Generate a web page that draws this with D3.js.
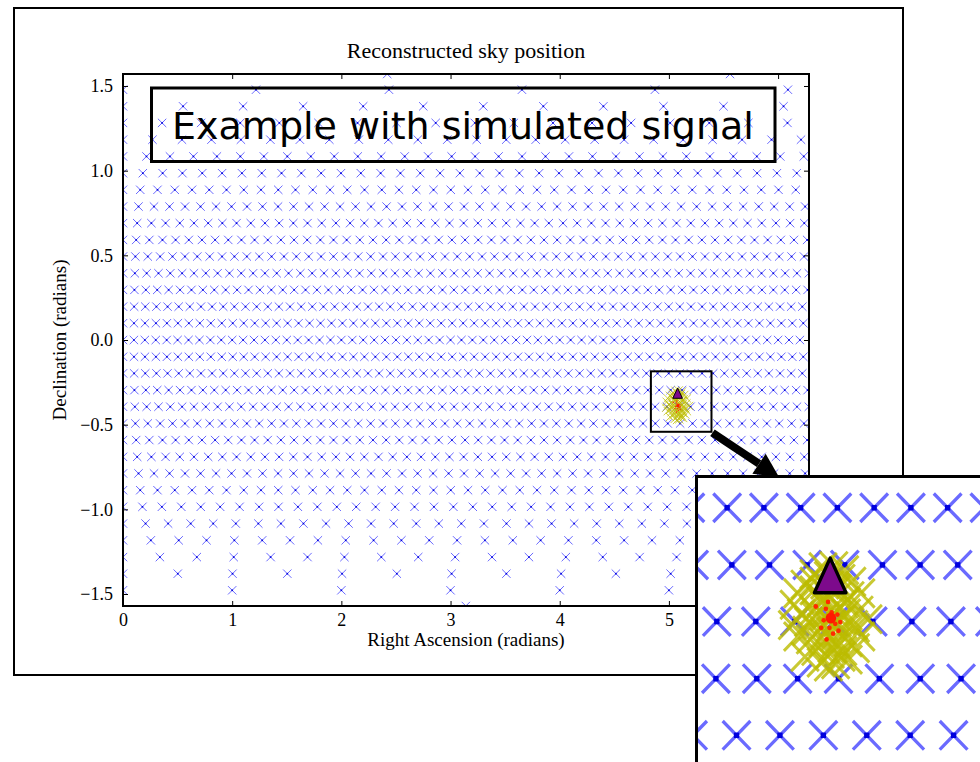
<!DOCTYPE html>
<html>
<head>
<meta charset="utf-8">
<script src="https://cdn.jsdelivr.net/npm/d3@7"></script>
<style>
  body { margin: 0; background: #fff; }
</style>
</head>
<body>
<div id="chart"></div>
<script>
// sky grid: one row per declination, points every rowStep radians in RA (from 0)
const rowDec  = [1.478, 1.380, 1.282, 1.183, 1.084, 0.985, 0.887, 0.788, 0.690, 0.591, 0.493, 0.394, 0.296, 0.197, 0.099, 0.000,
                 -0.099, -0.197, -0.296, -0.394, -0.493, -0.591, -0.690, -0.788, -0.887, -0.985, -1.084, -1.183, -1.282, -1.380, -1.478];
const rowStep = [1.218, 0.550, 0.358, 0.270, 0.215, 0.1815, 0.158, 0.142, 0.130, 0.1205, 0.1134, 0.1083, 0.1045, 0.102, 0.1005, 0.100,
                 0.1005, 0.102, 0.1045, 0.1083, 0.1134, 0.1205, 0.130, 0.142, 0.158, 0.178, 0.2066, 0.255, 0.338, 0.5016, 1.000];
const poleNorthRA = [2.42, 5.56];
const poleSouthRA = [3.14];

// reconstructed positions (yellow), likelihood peaks (red), injection (triangle)
const reconRA  = [5.06, 5.09, 5.12, 5.035, 5.075, 5.11, 5.14, 5.01,
                  4.99, 5.035, 5.07, 5.10, 5.135, 5.165, 5.055, 5.12, 4.98,
                  5.00, 5.035, 5.065, 5.09, 5.125, 5.16, 5.185, 4.975, 5.02, 5.055, 5.085, 5.115, 5.15, 5.075, 5.10,
                  4.99, 5.025, 5.06, 5.09, 5.13, 5.165, 5.04, 5.08, 5.115, 5.15,
                  5.01, 5.055, 5.095, 5.13, 5.075,
                  5.035, 5.065, 5.095, 5.125, 5.05, 5.08, 5.11, 5.015, 5.145, 5.065, 5.095, 5.04, 5.11, 5.085];
const reconDec = [-0.300, -0.298, -0.305, -0.312, -0.315, -0.320, -0.325, -0.330,
                  -0.345, -0.340, -0.345, -0.338, -0.350, -0.345, -0.360, -0.362, -0.365,
                  -0.380, -0.375, -0.385, -0.370, -0.380, -0.375, -0.390, -0.400, -0.395, -0.405, -0.400, -0.410, -0.405, -0.390, -0.395,
                  -0.420, -0.425, -0.430, -0.420, -0.430, -0.420, -0.445, -0.450, -0.445, -0.440,
                  -0.455, -0.465, -0.468, -0.460, -0.472,
                  -0.325, -0.330, -0.335, -0.360, -0.350, -0.355, -0.392, -0.410, -0.400, -0.415, -0.430, -0.385, -0.455, -0.440];
const peakRA  = [5.068, 5.094, 5.078, 5.100, 5.062, 5.088, 5.074, 5.108, 5.055, 5.084, 5.103, 5.040, 5.070];
const peakDec = [-0.372, -0.398, -0.405, -0.382, -0.392, -0.415, -0.360, -0.395, -0.405, -0.378, -0.410, -0.368, -0.425];
const bestRA = 5.082, bestDec = -0.388;
const injRA = 5.08, injDec = -0.317;

const xTicks = [0, 1, 2, 3, 4, 5, 6];
const yTicks = [-1.5, -1.0, -0.5, 0.0, 0.5, 1.0, 1.5];

const width = 980, height = 762;
const plot = {left: 123, top: 74, right: 809, bottom: 606};
const serif = "'Liberation Serif', 'DejaVu Serif', serif";

const svg = d3.select("#chart").append("svg")
    .attr("width", width)
    .attr("height", height)
    .style("display", "block");

const x = d3.scaleLinear().domain([0, 2 * Math.PI]).range([plot.left, plot.right]);
const y = d3.scaleLinear().domain([-Math.PI / 2, Math.PI / 2]).range([plot.bottom, plot.top]);

// expand the rows into points
const grid = [];
rowDec.forEach((dec, i) => {
    for (let k = 0; k * rowStep[i] < 2 * Math.PI; k++) grid.push([k * rowStep[i], dec]);
});
poleNorthRA.forEach(ra => grid.push([ra, Math.PI / 2]));
poleSouthRA.forEach(ra => grid.push([ra, -Math.PI / 2]));

const recon = reconRA.map((ra, i) => [ra, reconDec[i]]);
const peaks = peakRA.map((ra, i) => [ra, peakDec[i]]);

const xMark = s => `M${-s},${-s}L${s},${s}M${-s},${s}L${s},${-s}`;

function drawMarks(g) {
    const cells = g.append("g").selectAll("g")
        .data(grid)
      .enter().append("g")
        .attr("transform", d => `translate(${x(d[0])},${y(d[1])})`);
    cells.append("path")
        .attr("d", xMark(4.2))
        .attr("stroke", "#6a6aff")
        .attr("stroke-width", 1)
        .attr("fill", "none");
    cells.append("rect")
        .attr("x", -0.8).attr("y", -0.8)
        .attr("width", 1.6).attr("height", 1.6)
        .attr("fill", "#0000dd");

    g.append("g").selectAll("path")
        .data(recon)
      .enter().append("path")
        .attr("transform", d => `translate(${x(d[0])},${y(d[1])})`)
        .attr("d", xMark(4.2))
        .attr("stroke", "#bcbc00")
        .attr("stroke-opacity", 0.8)
        .attr("stroke-width", 0.9)
        .attr("fill", "none");

    g.append("g").selectAll("circle")
        .data(peaks)
      .enter().append("circle")
        .attr("cx", d => x(d[0]))
        .attr("cy", d => y(d[1]))
        .attr("r", 0.7)
        .attr("fill", "#ff2a00");

    g.append("circle")
        .attr("cx", x(bestRA))
        .attr("cy", y(bestDec))
        .attr("r", 1.6)
        .attr("fill", "#ff1a00");

    const tx = x(injRA), ty = y(injDec);
    g.append("path")
        .attr("d", `M${tx},${ty - 5.6}L${tx + 4.8},${ty + 4.6}L${tx - 4.8},${ty + 4.6}Z`)
        .attr("fill", "#7d0a8c")
        .attr("stroke", "#000")
        .attr("stroke-width", 1)
        .attr("stroke-linejoin", "round");
}

// outer frame and title
svg.append("rect")
    .attr("x", 14).attr("y", 8)
    .attr("width", 889).attr("height", 667)
    .attr("fill", "#fff")
    .attr("stroke", "#000")
    .attr("stroke-width", 2);

svg.append("text")
    .attr("x", 466).attr("y", 58)
    .attr("text-anchor", "middle")
    .attr("font-family", serif)
    .attr("font-size", 22)
    .text("Reconstructed sky position");

// main plot
svg.append("clipPath").attr("id", "plot-clip")
  .append("rect")
    .attr("x", plot.left).attr("y", plot.top)
    .attr("width", plot.right - plot.left)
    .attr("height", plot.bottom - plot.top);

const main = svg.append("g").attr("clip-path", "url(#plot-clip)");
drawMarks(main);

// highlighted region
svg.append("rect")
    .attr("x", x(4.835)).attr("y", y(-0.185))
    .attr("width", x(5.39) - x(4.835))
    .attr("height", y(-0.542) - y(-0.185))
    .attr("fill", "none")
    .attr("stroke", "#000")
    .attr("stroke-width", 2);

// axes, ticks inside on all four sides
function styleAxis(g) {
    g.select(".domain").remove();
    g.selectAll(".tick line").attr("stroke", "#000").attr("stroke-width", 1);
    g.selectAll(".tick text")
        .attr("fill", "#000")
        .attr("font-family", serif)
        .attr("font-size", 18);
}

svg.append("g")
    .attr("transform", `translate(0,${plot.bottom})`)
    .call(d3.axisBottom(x).tickValues(xTicks).tickFormat(d3.format("d")).tickSize(-5).tickPadding(7))
    .call(styleAxis);

svg.append("g")
    .attr("transform", `translate(0,${plot.top})`)
    .call(d3.axisTop(x).tickValues(xTicks).tickFormat("").tickSize(-5))
    .call(styleAxis);

svg.append("g")
    .attr("transform", `translate(${plot.left},0)`)
    .call(d3.axisLeft(y).tickValues(yTicks).tickFormat(d3.format(".1f")).tickSize(-5).tickPadding(10))
    .call(styleAxis);

svg.append("g")
    .attr("transform", `translate(${plot.right},0)`)
    .call(d3.axisRight(y).tickValues(yTicks).tickFormat("").tickSize(-5))
    .call(styleAxis);

svg.append("rect")
    .attr("x", plot.left).attr("y", plot.top)
    .attr("width", plot.right - plot.left)
    .attr("height", plot.bottom - plot.top)
    .attr("fill", "none")
    .attr("stroke", "#000")
    .attr("stroke-width", 2);

svg.append("text")
    .attr("x", 466).attr("y", 646)
    .attr("text-anchor", "middle")
    .attr("font-family", serif)
    .attr("font-size", 19)
    .text("Right Ascension (radians)");

svg.append("text")
    .attr("transform", "translate(66,340) rotate(-90)")
    .attr("text-anchor", "middle")
    .attr("font-family", serif)
    .attr("font-size", 19)
    .text("Declination (radians)");

// caption box
svg.append("rect")
    .attr("x", 151.5).attr("y", 88)
    .attr("width", 623.5).attr("height", 73.5)
    .attr("fill", "none")
    .attr("stroke", "#000")
    .attr("stroke-width", 3);

svg.append("text")
    .attr("x", 463).attr("y", 139)
    .attr("text-anchor", "middle")
    .attr("font-family", "'DejaVu Sans', Verdana, sans-serif")
    .attr("font-size", 38)
    .attr("fill", "#000")
    .text("Example with simulated signal");

// arrow from the box to the zoomed view
const ax0 = x(5.39) + 1, ay0 = y(-0.542) + 1;
const tip = [779, 477];
const ux = (tip[0] - ax0), uy = (tip[1] - ay0), len = Math.hypot(ux, uy);
const nx = ux / len, ny = uy / len;
const base = [tip[0] - 24 * nx, tip[1] - 24 * ny];
svg.append("line")
    .attr("x1", ax0).attr("y1", ay0)
    .attr("x2", base[0]).attr("y2", base[1])
    .attr("stroke", "#000")
    .attr("stroke-width", 8);
svg.append("path")
    .attr("d", `M${tip[0]},${tip[1]}L${base[0] - 12 * ny},${base[1] + 12 * nx}L${base[0] + 12 * ny},${base[1] - 12 * nx}Z`)
    .attr("fill", "#000");

// zoomed inset
svg.append("clipPath").attr("id", "inset-clip")
  .append("rect")
    .attr("x", 697).attr("y", 477)
    .attr("width", 300).attr("height", 300);

const inset = svg.append("g").attr("clip-path", "url(#inset-clip)");
inset.append("rect")
    .attr("x", 697).attr("y", 477)
    .attr("width", 300).attr("height", 300)
    .attr("fill", "#fff");
drawMarks(inset.append("g").attr("transform", "translate(-1406,-765.4) scale(3.3,3.41)"));

svg.append("rect")
    .attr("x", 696.5).attr("y", 476.5)
    .attr("width", 320).attr("height", 320)
    .attr("fill", "none")
    .attr("stroke", "#000")
    .attr("stroke-width", 3);
</script>
</body>
</html>
